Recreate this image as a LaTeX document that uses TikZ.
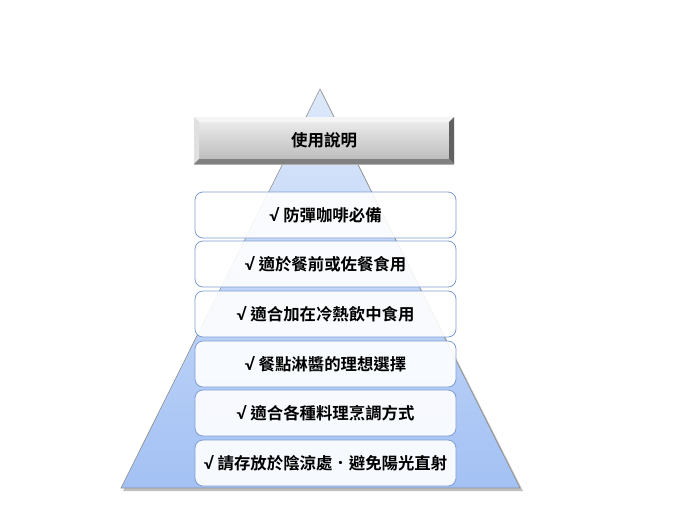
\documentclass[tikz,border=0pt]{standalone}
\usepackage{fontspec}
\newfontfamily\cjk{Noto Sans CJK TC Bold}
\newfontfamily\chk{Lato}[BoldFont=* Bold]
\newcommand{\ck}{{\chk\bfseries √}}
\usetikzlibrary{shadows}
\definecolor{triTop}{HTML}{DDE8FA}
\definecolor{triBot}{HTML}{A3C1F4}
\definecolor{boxLine}{HTML}{7E9ED3}
\tikzset{
  rowbox/.style={draw=boxLine, line width=0.8pt, rounded corners=8pt, fill=white, fill opacity=0.9, text opacity=1,
    minimum width=261pt, minimum height=46pt, inner sep=0pt, font=\cjk\fontsize{16.4}{18}\selectfont},
}
\begin{document}
\begin{tikzpicture}[x=1pt,y=-1pt]
\useasboundingbox (0,0) rectangle (700,525);
% pyramid
\fill[black!25] (123,491) -- (322,92) -- (523,491) -- cycle;
\shade[top color=triTop, bottom color=triBot, draw=black!45, line width=0.6pt]
  (121,488) coordinate (bl) -- (320,89) coordinate (ap) -- (520,488) coordinate (br) -- cycle;
% header bevel
\shade[top color=black!6, bottom color=black!28] (194,117) rectangle (454,164);
\fill[black!4] (194,117) -- (454,117) -- (449,122) -- (199,122) -- cycle;
\fill[black!12] (194,117) -- (199,122) -- (199,159) -- (194,164) -- cycle;
\fill[black!62] (454,117) -- (454,164) -- (449,159) -- (449,122) -- cycle;
\fill[black!50] (194,164) -- (454,164) -- (449,159) -- (199,159) -- cycle;
\node[font=\cjk\fontsize{16.5}{18}\selectfont] (head) at (324,140.5) {使用說明};
% rows
\node[rowbox] (r1) at (325.5,215) {\ck\ 防彈咖啡必備};
\node[rowbox] (r2) at (325.5,264) {\ck\ 適於餐前或佐餐食用};
\node[rowbox] (r3) at (325.5,314) {\ck\ 適合加在冷熱飲中食用};
\node[rowbox] (r4) at (325.5,364) {\ck\ 餐點淋醬的理想選擇};
\node[rowbox] (r5) at (325.5,413) {\ck\ 適合各種料理烹調方式};
\node[rowbox] (r6) at (325.5,463) {\ck\ 請存放於陰涼處．避免陽光直射};
\end{tikzpicture}
\end{document}
